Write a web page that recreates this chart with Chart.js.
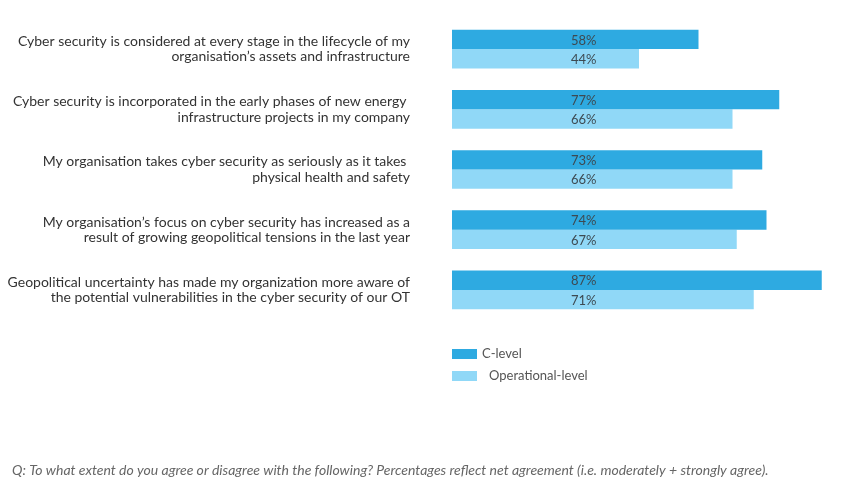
<!DOCTYPE html>
<html>
<head>
<meta charset="utf-8">
<script src="https://cdn.jsdelivr.net/npm/chart.js@4"></script>
<style>
  html, body { margin: 0; padding: 0; background: #fff; }
  #wrap { width: 864px; height: 486px; position: relative; }
</style>
</head>
<body>
<div id="wrap"><canvas id="chart"></canvas></div>
<script>
const categories = [
  ["Cyber security is considered at every stage in the lifecycle of my", "organisation\u2019s assets and infrastructure"],
  ["Cyber security is incorporated in the early phases of new energy ", "infrastructure projects in my company"],
  ["My organisation takes cyber security as seriously as it takes ", "physical health and safety"],
  ["My organisation\u2019s focus on cyber security has increased as a", "result of growing geopolitical tensions in the last year"],
  ["Geopolitical uncertainty has made my organization more aware of", "the potential vulnerabilities in the cyber security of our OT"]
];
const cLevel = [58, 77, 73, 74, 87];
const operationalLevel = [44, 66, 66, 67, 71];
const seriesNames = ["C-level", "Operational-level"];
const footnote = "Q: To what extent do you agree or disagree with the following? Percentages reflect net agreement (i.e. moderately + strongly agree).";

const FONT = "Lato, 'Open Sans', sans-serif";
const COLOR_C = "#2eaae1";
const COLOR_OP = "#90d8f7";

// value labels sit in one column, not at bar ends
const valueLabels = {
  id: "valueLabels",
  afterDatasetsDraw(chart) {
    const ctx = chart.ctx;
    const x = chart.scales.x.getPixelForValue(31);
    ctx.save();
    ctx.font = "13px " + FONT;
    ctx.fillStyle = "#3d4a52";
    ctx.textAlign = "center";
    ctx.textBaseline = "middle";
    chart.data.datasets.forEach((ds, i) => {
      chart.getDatasetMeta(i).data.forEach((bar, j) => {
        ctx.fillText(ds.data[j] + "%", x, bar.y + 1);
      });
    });
    ctx.restore();
  }
};

// vertical legend under the bars + footnote
const legendAndNote = {
  id: "legendAndNote",
  afterDraw(chart) {
    const ctx = chart.ctx;
    const left = chart.chartArea.left;
    ctx.save();
    ctx.font = "13px " + FONT;
    ctx.textBaseline = "middle";
    const offsets = [0, 7];
    chart.data.datasets.forEach((ds, i) => {
      const y = 349 + i * 22;
      ctx.fillStyle = ds.backgroundColor;
      ctx.fillRect(left, y, 25, 10);
      ctx.fillStyle = "#555";
      ctx.fillText(ds.label, left + 30 + offsets[i], y + 5);
    });
    ctx.font = "italic 14px " + FONT;
    ctx.fillStyle = "#666";
    ctx.fillText(footnote, 12, 470);
    ctx.restore();
  }
};

new Chart(document.getElementById("chart"), {
  type: "bar",
  data: {
    labels: categories,
    datasets: [
      { label: seriesNames[0], data: cLevel, backgroundColor: COLOR_C },
      { label: seriesNames[1], data: operationalLevel, backgroundColor: COLOR_OP }
    ]
  },
  options: {
    indexAxis: "y",
    responsive: true,
    maintainAspectRatio: false,
    animation: false,
    layout: { padding: { left: 0, top: 19, right: 4, bottom: 166 } },
    datasets: {
      bar: { barPercentage: 1, categoryPercentage: 0.643, borderWidth: 0 }
    },
    scales: {
      x: { display: false, min: 0, max: 96 },
      y: {
        grid: { display: false, drawTicks: false },
        border: { display: false },
        ticks: {
          padding: 42,
          color: "#333",
          autoSkip: false,
          font: { family: FONT, size: 14, lineHeight: 1.1 }
        },
        afterFit(scale) {
          scale.width = 452;
          scale.paddingTop = 0;
          scale.paddingBottom = 0;
        }
      }
    },
    plugins: {
      legend: { display: false },
      tooltip: { enabled: false }
    }
  },
  plugins: [valueLabels, legendAndNote]
});
</script>
</body>
</html>
